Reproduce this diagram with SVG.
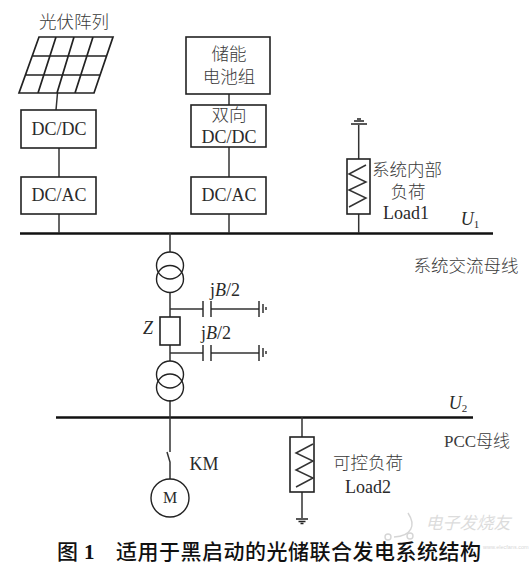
<svg xmlns="http://www.w3.org/2000/svg" width="529" height="564" viewBox="0 0 529 564">
<style>
text{font-family:"Liberation Serif","Noto Sans CJK SC",serif;fill:#2a2a2a;text-anchor:middle}
.m{font-size:18px}
.c{font-size:17.500px;font-weight:300;fill:#3a3a3a}
.i{font-style:italic}
.box{fill:#fff;stroke:#222;stroke-width:1.6}
.ln{fill:none;stroke:#333;stroke-width:1.5}
.bus{fill:none;stroke:#111;stroke-width:2.6}
.ci{fill:none;stroke:#222;stroke-width:1.4}
.cap{font-family:"Noto Sans CJK SC",sans-serif;font-size:21px;font-weight:500;fill:#111;text-anchor:start}
</style>
<g id="connectors">
<path class="bus" d="M20 233.500H493"/>
<path class="bus" d="M56 417.500H473"/>
<path class="ln" d="M57.500 93L56 110M59 148V177M59 214V233M229 94V105M229 147V177M229 214V233M358.700 233V214M358.700 159V125M170 233V252M170 292V317M170 345V361M170 400V417M170 309H203M211 309H259M170 353H203M211 353H259M170 417V452M167 452L170 462V479M302 417V437M302 492V518"/>
</g>
<g id="pv-array">
<path class="ci" style="stroke-width:1.7" d="M39 37H113L94 93H19ZM33 56H107M26 75H100M56 37L38 93M74 37L57 93M93 37L75 93"/>
<text class="c" x="74" y="28">光伏阵列</text>
</g>
<g id="dcdc1"><rect class="box" x="21" y="110" width="75" height="38"/><text class="m" x="59" y="135">DC/DC</text></g>
<g id="dcac1"><rect class="box" x="21" y="177" width="75" height="37"/><text class="m" x="59" y="201">DC/AC</text></g>
<g id="battery"><rect class="box" x="186" y="37" width="84" height="57"/><text class="c" x="229" y="60">储能</text><text class="c" x="229" y="83">电池组</text></g>
<g id="dcdc2"><rect class="box" x="191" y="105" width="75" height="42"/><text class="c" x="229" y="121">双向</text><text class="m" x="229" y="143">DC/DC</text></g>
<g id="dcac2"><rect class="box" x="191" y="177" width="75" height="37"/><text class="m" x="229" y="201">DC/AC</text></g>
<g id="load1">
<rect class="box" x="347" y="159" width="23" height="55"/>
<path class="ln" d="M366 165L349 174L366 182L349 190L366 198L349 207"/>
<path class="ci" d="M351 124H367M354 121H364M357 119H361"/>
<text class="c" x="407" y="176">系统内部</text>
<text class="c" x="408" y="198">负荷</text>
<text class="m" x="406" y="219">Load1</text>
</g>
<g id="u1"><text class="m i" x="470" y="225">U<tspan font-size="11" font-style="normal" dy="3">1</tspan></text></g>
<g id="bus1-label"><text class="c" x="466" y="272">系统交流母线</text></g>
<g id="t1"><circle class="ci" cx="170" cy="265.500" r="13.500"/><circle class="ci" cx="170" cy="279" r="13.500"/></g>
<g id="z"><rect class="box" x="160" y="317" width="20" height="28"/><text class="m i" x="148" y="334">Z</text></g>
<g id="t2"><circle class="ci" cx="170" cy="374.500" r="13.500"/><circle class="ci" cx="170" cy="387.500" r="13.500"/></g>
<g id="cap1">
<path class="ci" d="M203 301V317M211 301V317M259 301V317M263 304V313M266 307V310"/>
<text class="m" x="225" y="296">j<tspan class="i">B</tspan>/2</text>
</g>
<g id="cap2">
<path class="ci" d="M203 345V361M211 345V361M259 345V361M263 348V357M266 351V354"/>
<text class="m" x="216" y="339">j<tspan class="i">B</tspan>/2</text>
</g>
<g id="u2"><text class="m i" x="458" y="409">U<tspan font-size="11" font-style="normal" dy="3">2</tspan></text></g>
<g id="bus2-label"><text class="c" x="477" y="447" style="font-size:17px">PCC母线</text></g>
<g id="km"><text class="m" x="204" y="470">KM</text></g>
<g id="motor"><circle class="ci" cx="170" cy="498" r="19"/><text x="170" y="503" style="font-size:16px">M</text></g>
<g id="load2">
<rect class="box" x="290" y="437" width="24" height="55"/>
<path class="ln" d="M313 444L296 453L313 461L296 470L313 478L296 487"/>
<path class="ci" d="M296 519H308M298.500 521.500H305.500M300.500 523.500H303.500"/>
<text class="c" x="368" y="469">可控负荷</text>
<text class="m" x="368" y="493">Load2</text>
</g>
<g id="watermark" opacity="0.4">
<path class="ci" style="stroke:#999" d="M408 513C416 525 412 536 394 537"/>
<circle class="ci" style="stroke:#999" cx="388" cy="537" r="3"/>
<circle class="ci" style="stroke:#999" cx="410" cy="536" r="3"/>
<text x="468" y="529" style="font-size:17px;fill:#aaa;font-style:italic">电子发烧友</text>
<text x="483" y="549" style="font-size:5.500px;text-anchor:start;fill:#999;font-family:'Liberation Sans',sans-serif">www.elecfans.com</text>
</g>
<g id="caption">
<text class="cap" x="57" y="559">图<tspan font-family="Liberation Serif" font-weight="700" dx="6">1</tspan></text>
<text class="cap" x="116" y="559" textLength="365">适用于黑启动的光储联合发电系统结构</text>
</g>
</svg>
